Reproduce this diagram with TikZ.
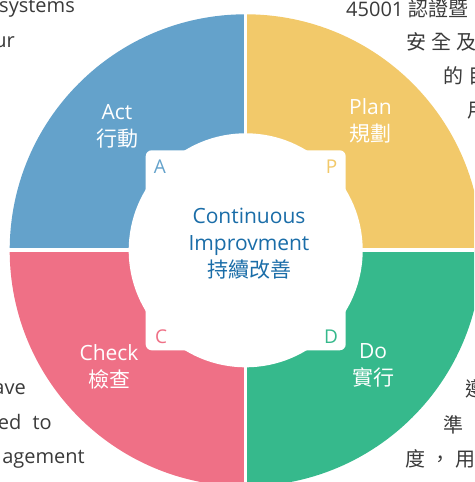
\documentclass[tikz,border=0pt]{standalone}
\usepackage{fontspec}
\setmainfont{Open Sans}
\newfontfamily\cjk{Noto Sans CJK TC}
\usetikzlibrary{positioning}

\definecolor{actblue}{HTML}{64A2CB}
\definecolor{planyellow}{HTML}{F2C96A}
\definecolor{dogreen}{HTML}{36B98C}
\definecolor{checkpink}{HTML}{EF7086}
\definecolor{ciblue}{HTML}{1A6DA8}
\definecolor{bodygray}{HTML}{3A3A3A}

\begin{document}
\begin{tikzpicture}[x=1pt,y=1pt,
  stage/.style={white, align=center, font=\fontsize{21}{27}\selectfont},
  letter/.style={font=\fontsize{19}{19}\selectfont},
  bodytext/.style={bodygray, inner sep=0pt, font=\fontsize{20}{20}\selectfont}]
\useasboundingbox (0,0) rectangle (474,482);
\clip (0,0) rectangle (474,482);
\coordinate (ctr) at (245.7,231.7);
% the four quarters
\fill[planyellow] (ctr) -- ++(0:236) arc[start angle=0,end angle=90,radius=236] -- cycle;
\fill[actblue] (ctr) -- ++(90:236) arc[start angle=90,end angle=180,radius=236] -- cycle;
\fill[checkpink] (ctr) -- ++(180:236) arc[start angle=180,end angle=270,radius=236] -- cycle;
\fill[dogreen] (ctr) -- ++(270:236) arc[start angle=270,end angle=360,radius=236] -- cycle;
\draw[white, line width=3.4] ([yshift=-240]ctr) -- ([yshift=240]ctr);
\draw[white, line width=4] ([xshift=-240]ctr) -- ([xshift=240]ctr);
% white middle
\fill[white] (ctr) circle[radius=117];
\fill[white, rounded corners=6] ([shift={(-100,-100)}]ctr) rectangle ([shift={(100,100)}]ctr);

\node[stage] (plan) at (370.5,361.5) {Plan\\{\cjk 規劃}};
\node[stage] (act) at (117,355.5) {Act\\{\cjk 行動}};
\node[stage] (check) at (109,115.5) {Check\\{\cjk 檢查}};
\node[stage] (do) at (373,116.5) {Do\\{\cjk 實行}};
\node[ciblue, align=center, font=\fontsize{21}{27}\selectfont] (ci) at (249,238)
  {Continuous\\Improvment\\{\cjk 持續改善}};

\node[letter, actblue] (a) at (160,315.3) {A};
\node[letter, planyellow] (p) at (331.5,315.3) {P};
\node[letter, checkpink] (c) at (161,145.3) {C};
\node[letter, dogreen] (d) at (331,145.3) {D};

% page text around the chart
\node[bodytext, anchor=base east] (l1) at (75,469) {systems};
\node[bodytext, anchor=base east] (l2) at (15,434) {ur};
\node[bodytext, anchor=base east] (l3) at (26,87) {ave};
\node[bodytext, anchor=base east] (l4) at (52,52) {ed\hspace{6pt} to};
\node[bodytext, anchor=base east] (l5) at (85,19) {agement};
\node[bodytext, anchor=base west] (r1) at (346,465) {45001 {\cjk 認證暨}};
\node[bodytext, anchor=base west] (r2) at (406,432) {\cjk 安\hspace{5pt}全\hspace{5pt}及};
\node[bodytext, anchor=base west] (r3) at (443,398) {\cjk 的\hspace{5pt}目};
\node[bodytext, anchor=base west] (r4) at (467,364) {\cjk 用};
\node[bodytext, anchor=base west] (r5) at (465,85) {\cjk 遵};
\node[bodytext, anchor=base west] (r6) at (443,49) {\cjk 準};
\node[bodytext, anchor=base west] (r7) at (405,15) {\cjk 度\hspace{5pt}，\hspace{5pt}用};
\end{tikzpicture}
\end{document}
